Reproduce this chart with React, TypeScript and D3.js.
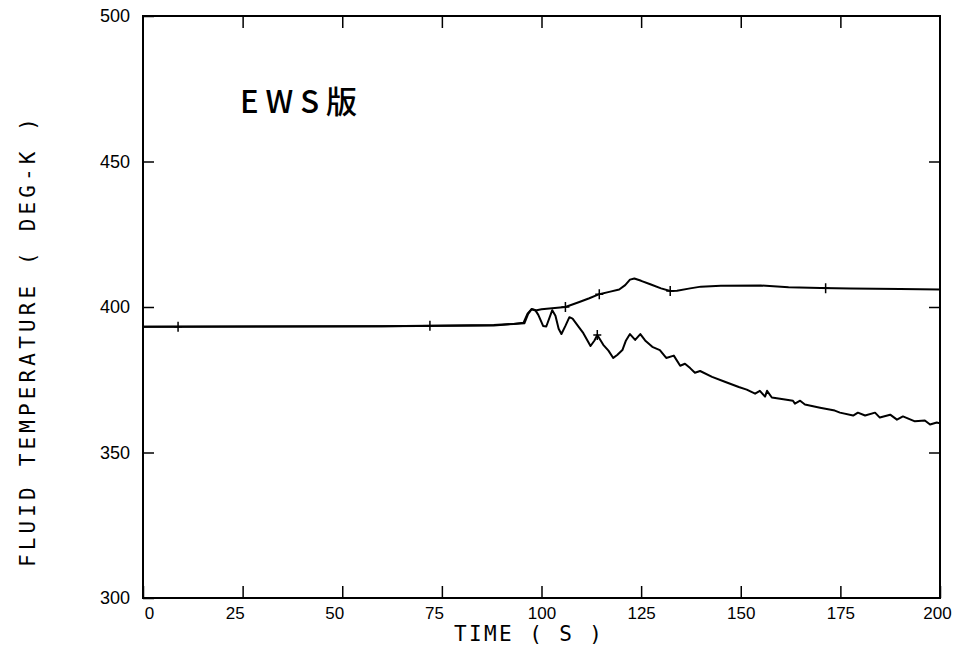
import React, { useEffect, useRef } from 'react';
import * as d3 from 'd3';

// upper trace (hot side)
const upperTime = [0, 60, 88, 93, 95.5, 96.5, 97.5, 98.5, 100, 102, 106, 109.5, 112, 114.5, 117, 119.5, 121, 122.2, 123.3, 125, 127.3, 130, 132.3, 134, 137.3, 140, 145, 155, 162, 170, 177.5, 190, 200];
const upperTemp = [393.2, 393.4, 393.8, 394.2, 394.6, 397.7, 399.3, 398.8, 399.2, 399.5, 400, 401.7, 403, 404.4, 405.2, 406, 407.5, 409.4, 409.8, 409, 407.8, 406.4, 405.5, 405.6, 406.4, 407, 407.3, 407.4, 406.8, 406.5, 406.4, 406.2, 406.0];

// lower trace (oscillating, cooling)
const lowerTime = [0, 30, 60, 88, 93, 95.7, 96.6, 97.5, 98.4, 99.2, 100.4, 101.2, 102.7, 103.5, 104.3, 105, 106, 107, 107.8, 109, 110.5, 112.3, 113.3, 114, 115.5, 116.8, 118, 119, 120.3, 121.2, 122.2, 123.5, 124.8, 126, 127.8, 129.7, 131.3, 133.2, 134.8, 136, 137.3, 138.5, 139.8, 142.8, 146, 149.5, 151.5, 153.6, 154.8, 156.1, 156.6, 157.8, 161.1, 163.1, 163.6, 164.9, 166.1, 169.9, 173.6, 174.9, 178.2, 179.4, 181.2, 183.7, 184.9, 187.5, 189.2, 190.7, 193.7, 196.2, 197.5, 199.2, 200];
const lowerTemp = [393.2, 393.3, 393.4, 393.6, 394.2, 394.4, 397.5, 399.2, 399.0, 397.3, 393.5, 393.3, 398.9, 397, 392.5, 390.7, 393.5, 396.5, 396, 393.8, 391, 386.6, 388.5, 390.4, 387, 385, 382.5, 383.5, 385.2, 388.5, 390.7, 388.7, 390.7, 388.5, 386.3, 385.2, 382.5, 383.3, 379.8, 380.5, 379, 377.4, 378, 376, 374.3, 372.5, 371.6, 370.2, 371.2, 369.2, 371.2, 368.9, 368.2, 367.8, 366.8, 367.8, 366.5, 365.4, 364.4, 363.7, 362.7, 363.7, 362.7, 363.7, 362.0, 363.0, 361.3, 362.4, 360.7, 361.0, 359.6, 360.3, 360.0];

// plotter "+" markers along each trace
const upperMarks = [8.8, 72, 106, 114.5, 132.3, 171.3];
const lowerMarks = [114];

const xTicks = [0, 25, 50, 75, 100, 125, 150, 175, 200];
const yTicks = [300, 350, 400, 450, 500];

const W = 960, H = 655;
const left = 143, right = 940, top = 16, bottom = 598;
const labelFont = "'Liberation Sans', Arial, sans-serif";
const titleFont = "'DejaVu Sans Mono', 'Liberation Mono', monospace";

export default function App() {
    const ref = useRef<SVGSVGElement>(null);

    useEffect(() => {
        const svg = d3.select(ref.current);
        svg.selectAll('*').remove();

        const x = d3.scaleLinear().domain([0, 200]).range([left, right]);
        const y = d3.scaleLinear().domain([300, 500]).range([bottom, top]);

        // frame
        svg.append('rect')
            .attr('x', left).attr('y', top)
            .attr('width', right - left).attr('height', bottom - top)
            .attr('fill', 'none').attr('stroke', '#000').attr('stroke-width', 2);

        const styleAxis = (g) => {
            g.select('.domain').remove();
            g.selectAll('line').attr('stroke', '#000').attr('stroke-width', 1.5);
            g.selectAll('text')
                .attr('fill', '#000')
                .style('font-family', labelFont);
        };

        const gX = svg.append('g')
            .attr('transform', `translate(0,${bottom})`)
            .call(d3.axisBottom(x).tickValues(xTicks).tickSizeInner(-12).tickSizeOuter(0).tickPadding(9))
            .call(styleAxis);
        gX.selectAll('text')
            .style('font-size', '17px')
            .attr('dx', (d) => (d === 0 ? 6 : d < 100 ? -8 : d === 200 ? -3 : 0));

        svg.append('g')
            .attr('transform', `translate(0,${top})`)
            .call(d3.axisTop(x).tickValues(xTicks.slice(1, -1)).tickSizeInner(-12).tickSizeOuter(0).tickFormat(() => ''))
            .call(styleAxis);

        svg.append('g')
            .attr('transform', `translate(${left},0)`)
            .call(d3.axisLeft(y).tickValues(yTicks).tickSizeInner(-11).tickSizeOuter(0).tickPadding(13))
            .call(styleAxis)
            .selectAll('text').style('font-size', '18px');

        svg.append('g')
            .attr('transform', `translate(${right},0)`)
            .call(d3.axisRight(y).tickValues(yTicks.slice(1, -1)).tickSizeInner(-11).tickSizeOuter(0).tickFormat(() => ''))
            .call(styleAxis);

        // traces
        const line = d3.line().x((d) => x(d[0])).y((d) => y(d[1]));
        const series = [
            { t: upperTime, v: upperTemp, marks: upperMarks },
            { t: lowerTime, v: lowerTemp, marks: lowerMarks },
        ];
        series.forEach((s) => {
            svg.append('path')
                .datum(d3.zip(s.t, s.v))
                .attr('d', line)
                .attr('fill', 'none')
                .attr('stroke', '#000')
                .attr('stroke-width', 2)
                .attr('stroke-linejoin', 'round');
            const interp = d3.scaleLinear().domain(s.t).range(s.v);
            svg.append('g').selectAll('path')
                .data(s.marks)
                .enter().append('path')
                .attr('transform', (d) => `translate(${x(d)},${y(interp(d))})`)
                .attr('d', 'M-4,0H4M0,-5V5')
                .attr('stroke', '#000')
                .attr('stroke-width', 1.5);
        });

        // axis titles
        svg.append('text')
            .attr('x', 454).attr('y', 641)
            .attr('textLength', 148).attr('lengthAdjust', 'spacing')
            .style('font-family', titleFont).style('font-size', '21px')
            .text('TIME ( S )');

        svg.append('text')
            .attr('transform', 'translate(35,567) rotate(-90)')
            .attr('textLength', 449).attr('lengthAdjust', 'spacing')
            .style('font-family', titleFont).style('font-size', '21px')
            .text('FLUID TEMPERATURE ( DEG-K )');

        svg.append('text')
            .attr('x', 240).attr('y', 113)
            .attr('textLength', 117).attr('lengthAdjust', 'spacing')
            .style('font-family', "'Noto Sans CJK JP', sans-serif")
            .style('font-size', '31px').style('font-weight', 500)
            .text('EWS版');
    }, []);

    return (
        <svg ref={ref} width={W} height={H}
            style={{ position: 'absolute', left: 0, top: 0, background: '#fff' }} />
    );
}
